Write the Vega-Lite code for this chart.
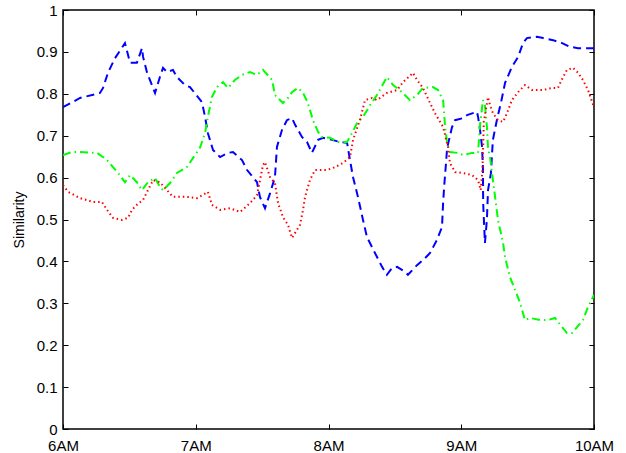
{
  "$schema": "https://vega.github.io/schema/vega-lite/v6.json",
  "autosize": "none",
  "width": 531,
  "height": 419,
  "padding": {"left": 63, "top": 10, "right": 32, "bottom": 24},
  "background": "white",
  "config": {
    "view": {"stroke": "black", "strokeWidth": 1.5},
    "axis": {
      "domain": false,
      "grid": false,
      "ticks": true,
      "tickColor": "black",
      "tickSize": -5,
      "tickWidth": 1,
      "labelFont": "Liberation Sans",
      "labelFontSize": 15,
      "labelColor": "black",
      "labelPadding": 11,
      "titleFont": "Liberation Sans",
      "titleFontSize": 14,
      "titleFontWeight": "normal",
      "titleColor": "black",
      "labelFlush": false,
      "labelOverlap": false
    }
  },
  "data": {
    "values": [
      {"s": "blue", "t": 0, "v": 0.768},
      {"s": "blue", "t": 7.7, "v": 0.79},
      {"s": "blue", "t": 16.7, "v": 0.802},
      {"s": "blue", "t": 18.1, "v": 0.814},
      {"s": "blue", "t": 20.3, "v": 0.85},
      {"s": "blue", "t": 23.5, "v": 0.885},
      {"s": "blue", "t": 28.0, "v": 0.921},
      {"s": "blue", "t": 30.3, "v": 0.874},
      {"s": "blue", "t": 33.4, "v": 0.874},
      {"s": "blue", "t": 35.7, "v": 0.909},
      {"s": "blue", "t": 36.2, "v": 0.888},
      {"s": "blue", "t": 38.0, "v": 0.85},
      {"s": "blue", "t": 41.6, "v": 0.802},
      {"s": "blue", "t": 43.8, "v": 0.84},
      {"s": "blue", "t": 45.2, "v": 0.862},
      {"s": "blue", "t": 47.0, "v": 0.852},
      {"s": "blue", "t": 49.7, "v": 0.857},
      {"s": "blue", "t": 51.5, "v": 0.84},
      {"s": "blue", "t": 55.1, "v": 0.821},
      {"s": "blue", "t": 57.4, "v": 0.816},
      {"s": "blue", "t": 61.0, "v": 0.792},
      {"s": "blue", "t": 62.8, "v": 0.78},
      {"s": "blue", "t": 64.2, "v": 0.745},
      {"s": "blue", "t": 65.5, "v": 0.706},
      {"s": "blue", "t": 67.8, "v": 0.666},
      {"s": "blue", "t": 71.0, "v": 0.649},
      {"s": "blue", "t": 74.6, "v": 0.659},
      {"s": "blue", "t": 76.8, "v": 0.661},
      {"s": "blue", "t": 80.9, "v": 0.642},
      {"s": "blue", "t": 83.2, "v": 0.618},
      {"s": "blue", "t": 87.7, "v": 0.589},
      {"s": "blue", "t": 89.0, "v": 0.554},
      {"s": "blue", "t": 91.3, "v": 0.527},
      {"s": "blue", "t": 93.6, "v": 0.563},
      {"s": "blue", "t": 95.8, "v": 0.601},
      {"s": "blue", "t": 96.7, "v": 0.673},
      {"s": "blue", "t": 99.0, "v": 0.714},
      {"s": "blue", "t": 101.2, "v": 0.737},
      {"s": "blue", "t": 103.5, "v": 0.742},
      {"s": "blue", "t": 104.9, "v": 0.726},
      {"s": "blue", "t": 108.0, "v": 0.697},
      {"s": "blue", "t": 110.3, "v": 0.685},
      {"s": "blue", "t": 112.5, "v": 0.659},
      {"s": "blue", "t": 115.3, "v": 0.69},
      {"s": "blue", "t": 117.5, "v": 0.695},
      {"s": "blue", "t": 121.6, "v": 0.69},
      {"s": "blue", "t": 125.2, "v": 0.685},
      {"s": "blue", "t": 128.4, "v": 0.683},
      {"s": "blue", "t": 129.7, "v": 0.642},
      {"s": "blue", "t": 131.1, "v": 0.601},
      {"s": "blue", "t": 133.3, "v": 0.554},
      {"s": "blue", "t": 135.6, "v": 0.499},
      {"s": "blue", "t": 137.4, "v": 0.458},
      {"s": "blue", "t": 141.0, "v": 0.42},
      {"s": "blue", "t": 144.2, "v": 0.387},
      {"s": "blue", "t": 146.4, "v": 0.368},
      {"s": "blue", "t": 148.7, "v": 0.384},
      {"s": "blue", "t": 151.0, "v": 0.387},
      {"s": "blue", "t": 154.6, "v": 0.375},
      {"s": "blue", "t": 155.9, "v": 0.368},
      {"s": "blue", "t": 160.0, "v": 0.391},
      {"s": "blue", "t": 162.7, "v": 0.403},
      {"s": "blue", "t": 165.9, "v": 0.42},
      {"s": "blue", "t": 169.0, "v": 0.451},
      {"s": "blue", "t": 171.3, "v": 0.482},
      {"s": "blue", "t": 171.8, "v": 0.54},
      {"s": "blue", "t": 172.3, "v": 0.58},
      {"s": "blue", "t": 173.2, "v": 0.64},
      {"s": "blue", "t": 173.6, "v": 0.67},
      {"s": "blue", "t": 175.8, "v": 0.72},
      {"s": "blue", "t": 177.2, "v": 0.737},
      {"s": "blue", "t": 180.8, "v": 0.742},
      {"s": "blue", "t": 182.6, "v": 0.749},
      {"s": "blue", "t": 187.1, "v": 0.757},
      {"s": "blue", "t": 187.6, "v": 0.745},
      {"s": "blue", "t": 188.5, "v": 0.714},
      {"s": "blue", "t": 189.4, "v": 0.673},
      {"s": "blue", "t": 189.8, "v": 0.625},
      {"s": "blue", "t": 189.9, "v": 0.54},
      {"s": "blue", "t": 190.7, "v": 0.444},
      {"s": "blue", "t": 191.6, "v": 0.5},
      {"s": "blue", "t": 192.1, "v": 0.57},
      {"s": "blue", "t": 193.4, "v": 0.61},
      {"s": "blue", "t": 194.3, "v": 0.69},
      {"s": "blue", "t": 196.2, "v": 0.74},
      {"s": "blue", "t": 198.0, "v": 0.78},
      {"s": "blue", "t": 199.8, "v": 0.826},
      {"s": "blue", "t": 202.9, "v": 0.864},
      {"s": "blue", "t": 205.7, "v": 0.888},
      {"s": "blue", "t": 207.9, "v": 0.921},
      {"s": "blue", "t": 209.7, "v": 0.933},
      {"s": "blue", "t": 214.2, "v": 0.936},
      {"s": "blue", "t": 217.0, "v": 0.933},
      {"s": "blue", "t": 221.5, "v": 0.928},
      {"s": "blue", "t": 225.6, "v": 0.921},
      {"s": "blue", "t": 229.2, "v": 0.912},
      {"s": "blue", "t": 232.8, "v": 0.909},
      {"s": "blue", "t": 236.9, "v": 0.909},
      {"s": "blue", "t": 240, "v": 0.909},

      {"s": "green", "t": 0, "v": 0.654},
      {"s": "green", "t": 4.1, "v": 0.661},
      {"s": "green", "t": 7.7, "v": 0.661},
      {"s": "green", "t": 15.4, "v": 0.659},
      {"s": "green", "t": 19.9, "v": 0.642},
      {"s": "green", "t": 22.6, "v": 0.625},
      {"s": "green", "t": 24.9, "v": 0.611},
      {"s": "green", "t": 28.0, "v": 0.589},
      {"s": "green", "t": 30.3, "v": 0.606},
      {"s": "green", "t": 33.4, "v": 0.589},
      {"s": "green", "t": 35.7, "v": 0.57},
      {"s": "green", "t": 38.4, "v": 0.589},
      {"s": "green", "t": 41.6, "v": 0.599},
      {"s": "green", "t": 43.8, "v": 0.578},
      {"s": "green", "t": 45.2, "v": 0.57},
      {"s": "green", "t": 48.4, "v": 0.587},
      {"s": "green", "t": 51.5, "v": 0.611},
      {"s": "green", "t": 56.0, "v": 0.625},
      {"s": "green", "t": 58.8, "v": 0.647},
      {"s": "green", "t": 61.9, "v": 0.671},
      {"s": "green", "t": 64.2, "v": 0.706},
      {"s": "green", "t": 65.5, "v": 0.745},
      {"s": "green", "t": 67.3, "v": 0.792},
      {"s": "green", "t": 69.6, "v": 0.816},
      {"s": "green", "t": 72.3, "v": 0.828},
      {"s": "green", "t": 74.6, "v": 0.814},
      {"s": "green", "t": 77.7, "v": 0.833},
      {"s": "green", "t": 80.9, "v": 0.845},
      {"s": "green", "t": 84.5, "v": 0.852},
      {"s": "green", "t": 87.7, "v": 0.845},
      {"s": "green", "t": 90.4, "v": 0.857},
      {"s": "green", "t": 94.5, "v": 0.833},
      {"s": "green", "t": 95.8, "v": 0.797},
      {"s": "green", "t": 99.4, "v": 0.778},
      {"s": "green", "t": 101.7, "v": 0.79},
      {"s": "green", "t": 103.5, "v": 0.804},
      {"s": "green", "t": 106.2, "v": 0.814},
      {"s": "green", "t": 108.5, "v": 0.802},
      {"s": "green", "t": 110.7, "v": 0.778},
      {"s": "green", "t": 113.0, "v": 0.737},
      {"s": "green", "t": 115.3, "v": 0.709},
      {"s": "green", "t": 117.1, "v": 0.697},
      {"s": "green", "t": 120.7, "v": 0.695},
      {"s": "green", "t": 124.3, "v": 0.685},
      {"s": "green", "t": 128.4, "v": 0.685},
      {"s": "green", "t": 130.6, "v": 0.706},
      {"s": "green", "t": 132.9, "v": 0.73},
      {"s": "green", "t": 135.6, "v": 0.745},
      {"s": "green", "t": 138.8, "v": 0.773},
      {"s": "green", "t": 141.9, "v": 0.797},
      {"s": "green", "t": 146.4, "v": 0.84},
      {"s": "green", "t": 149.2, "v": 0.821},
      {"s": "green", "t": 153.2, "v": 0.804},
      {"s": "green", "t": 156.8, "v": 0.785},
      {"s": "green", "t": 160.0, "v": 0.797},
      {"s": "green", "t": 162.7, "v": 0.814},
      {"s": "green", "t": 167.2, "v": 0.816},
      {"s": "green", "t": 169.5, "v": 0.809},
      {"s": "green", "t": 171.8, "v": 0.785},
      {"s": "green", "t": 172.7, "v": 0.721},
      {"s": "green", "t": 173.6, "v": 0.683},
      {"s": "green", "t": 174.9, "v": 0.661},
      {"s": "green", "t": 178.1, "v": 0.659},
      {"s": "green", "t": 180.8, "v": 0.654},
      {"s": "green", "t": 184.9, "v": 0.659},
      {"s": "green", "t": 187.6, "v": 0.659},
      {"s": "green", "t": 188.5, "v": 0.726},
      {"s": "green", "t": 189.8, "v": 0.785},
      {"s": "green", "t": 190.7, "v": 0.773},
      {"s": "green", "t": 191.6, "v": 0.721},
      {"s": "green", "t": 192.1, "v": 0.671},
      {"s": "green", "t": 193.0, "v": 0.649},
      {"s": "green", "t": 193.9, "v": 0.611},
      {"s": "green", "t": 195.3, "v": 0.554},
      {"s": "green", "t": 196.6, "v": 0.499},
      {"s": "green", "t": 198.9, "v": 0.444},
      {"s": "green", "t": 199.8, "v": 0.41},
      {"s": "green", "t": 202.0, "v": 0.363},
      {"s": "green", "t": 204.3, "v": 0.332},
      {"s": "green", "t": 206.6, "v": 0.301},
      {"s": "green", "t": 208.8, "v": 0.26},
      {"s": "green", "t": 211.1, "v": 0.265},
      {"s": "green", "t": 215.6, "v": 0.26},
      {"s": "green", "t": 219.2, "v": 0.26},
      {"s": "green", "t": 222.4, "v": 0.265},
      {"s": "green", "t": 225.6, "v": 0.243},
      {"s": "green", "t": 227.8, "v": 0.229},
      {"s": "green", "t": 230.1, "v": 0.229},
      {"s": "green", "t": 232.3, "v": 0.243},
      {"s": "green", "t": 235.0, "v": 0.26},
      {"s": "green", "t": 237.3, "v": 0.291},
      {"s": "green", "t": 240, "v": 0.32},

      {"s": "red", "t": 0, "v": 0.582},
      {"s": "red", "t": 2.3, "v": 0.566},
      {"s": "red", "t": 7.7, "v": 0.551},
      {"s": "red", "t": 13.6, "v": 0.542},
      {"s": "red", "t": 17.6, "v": 0.542},
      {"s": "red", "t": 19.9, "v": 0.523},
      {"s": "red", "t": 22.6, "v": 0.504},
      {"s": "red", "t": 26.7, "v": 0.499},
      {"s": "red", "t": 29.4, "v": 0.504},
      {"s": "red", "t": 31.2, "v": 0.523},
      {"s": "red", "t": 33.4, "v": 0.535},
      {"s": "red", "t": 36.2, "v": 0.547},
      {"s": "red", "t": 38.4, "v": 0.57},
      {"s": "red", "t": 40.7, "v": 0.594},
      {"s": "red", "t": 43.8, "v": 0.589},
      {"s": "red", "t": 47.0, "v": 0.57},
      {"s": "red", "t": 49.7, "v": 0.554},
      {"s": "red", "t": 56.0, "v": 0.554},
      {"s": "red", "t": 60.6, "v": 0.551},
      {"s": "red", "t": 65.5, "v": 0.566},
      {"s": "red", "t": 67.3, "v": 0.535},
      {"s": "red", "t": 71.0, "v": 0.523},
      {"s": "red", "t": 75.5, "v": 0.527},
      {"s": "red", "t": 80.0, "v": 0.518},
      {"s": "red", "t": 84.5, "v": 0.539},
      {"s": "red", "t": 87.7, "v": 0.558},
      {"s": "red", "t": 90.4, "v": 0.63},
      {"s": "red", "t": 91.3, "v": 0.637},
      {"s": "red", "t": 93.6, "v": 0.601},
      {"s": "red", "t": 95.8, "v": 0.587},
      {"s": "red", "t": 97.2, "v": 0.539},
      {"s": "red", "t": 99.4, "v": 0.506},
      {"s": "red", "t": 101.7, "v": 0.487},
      {"s": "red", "t": 103.5, "v": 0.456},
      {"s": "red", "t": 107.1, "v": 0.487},
      {"s": "red", "t": 108.5, "v": 0.523},
      {"s": "red", "t": 109.4, "v": 0.554},
      {"s": "red", "t": 111.6, "v": 0.594},
      {"s": "red", "t": 113.9, "v": 0.618},
      {"s": "red", "t": 119.3, "v": 0.618},
      {"s": "red", "t": 122.9, "v": 0.625},
      {"s": "red", "t": 126.6, "v": 0.635},
      {"s": "red", "t": 129.7, "v": 0.649},
      {"s": "red", "t": 131.1, "v": 0.69},
      {"s": "red", "t": 134.2, "v": 0.737},
      {"s": "red", "t": 136.5, "v": 0.785},
      {"s": "red", "t": 139.7, "v": 0.79},
      {"s": "red", "t": 141.9, "v": 0.785},
      {"s": "red", "t": 146.4, "v": 0.802},
      {"s": "red", "t": 151.0, "v": 0.809},
      {"s": "red", "t": 153.7, "v": 0.828},
      {"s": "red", "t": 158.2, "v": 0.85},
      {"s": "red", "t": 160.0, "v": 0.833},
      {"s": "red", "t": 162.7, "v": 0.814},
      {"s": "red", "t": 165.9, "v": 0.778},
      {"s": "red", "t": 168.1, "v": 0.754},
      {"s": "red", "t": 171.8, "v": 0.721},
      {"s": "red", "t": 174.0, "v": 0.673},
      {"s": "red", "t": 174.9, "v": 0.635},
      {"s": "red", "t": 177.2, "v": 0.613},
      {"s": "red", "t": 180.8, "v": 0.611},
      {"s": "red", "t": 184.9, "v": 0.606},
      {"s": "red", "t": 187.6, "v": 0.594},
      {"s": "red", "t": 188.8, "v": 0.57},
      {"s": "red", "t": 189.6, "v": 0.62},
      {"s": "red", "t": 190.2, "v": 0.733},
      {"s": "red", "t": 192.1, "v": 0.792},
      {"s": "red", "t": 193.0, "v": 0.773},
      {"s": "red", "t": 194.3, "v": 0.754},
      {"s": "red", "t": 196.6, "v": 0.737},
      {"s": "red", "t": 198.9, "v": 0.733},
      {"s": "red", "t": 200.7, "v": 0.754},
      {"s": "red", "t": 202.9, "v": 0.785},
      {"s": "red", "t": 205.7, "v": 0.804},
      {"s": "red", "t": 208.8, "v": 0.821},
      {"s": "red", "t": 212.0, "v": 0.809},
      {"s": "red", "t": 217.0, "v": 0.809},
      {"s": "red", "t": 221.0, "v": 0.814},
      {"s": "red", "t": 223.7, "v": 0.814},
      {"s": "red", "t": 226.0, "v": 0.84},
      {"s": "red", "t": 227.8, "v": 0.857},
      {"s": "red", "t": 230.5, "v": 0.862},
      {"s": "red", "t": 232.8, "v": 0.85},
      {"s": "red", "t": 235.0, "v": 0.833},
      {"s": "red", "t": 237.3, "v": 0.809},
      {"s": "red", "t": 240, "v": 0.768}
    ]
  },
  "layer": [
    {
      "mark": {"type": "line", "strokeWidth": 2, "clip": true},
      "encoding": {
        "x": {
          "field": "t", "type": "quantitative",
          "scale": {"domain": [0, 240], "nice": false, "zero": false},
          "axis": {"orient": "bottom", "title": null, "values": [0, 60, 120, 180, 240],
                   "labelPadding": 14, "labelOverlap": false,
                   "labelExpr": "(6 + datum.value / 60) + 'AM'"}
        },
        "y": {
          "field": "v", "type": "quantitative",
          "scale": {"domain": [0, 1], "nice": false},
          "axis": {"orient": "left", "title": "Similarity",
                   "values": [0, 0.1, 0.2, 0.3, 0.4, 0.5, 0.6, 0.7, 0.8, 0.9, 1],
                   "labelOverlap": false, "labelBound": false,
                   "format": ".1~f", "titlePadding": 10}
        },
        "color": {
          "field": "s", "type": "nominal", "legend": null,
          "scale": {"domain": ["blue", "green", "red"], "range": ["#0000ff", "#00ff00", "#ff0000"]}
        },
        "strokeDash": {
          "field": "s", "type": "nominal", "legend": null,
          "scale": {"domain": ["blue", "green", "red"], "range": [[8, 5], [8, 4, 1.5, 4], [1.5, 3]]}
        },
        "strokeWidth": {
          "field": "s", "type": "nominal", "legend": null,
          "scale": {"domain": ["blue", "green", "red"], "range": [2, 2, 1.2]}
        }
      }
    },
    {
      "mark": {"type": "point", "opacity": 0},
      "encoding": {
        "x": {
          "field": "t", "type": "quantitative",
          "axis": {"orient": "top", "title": null, "labels": false, "values": [0, 60, 120, 180, 240]}
        },
        "y": {
          "field": "v", "type": "quantitative",
          "axis": {"orient": "right", "title": null, "labels": false,
                   "values": [0, 0.1, 0.2, 0.3, 0.4, 0.5, 0.6, 0.7, 0.8, 0.9, 1]}
        }
      }
    }
  ],
  "resolve": {"axis": {"x": "independent", "y": "independent"}}
}
